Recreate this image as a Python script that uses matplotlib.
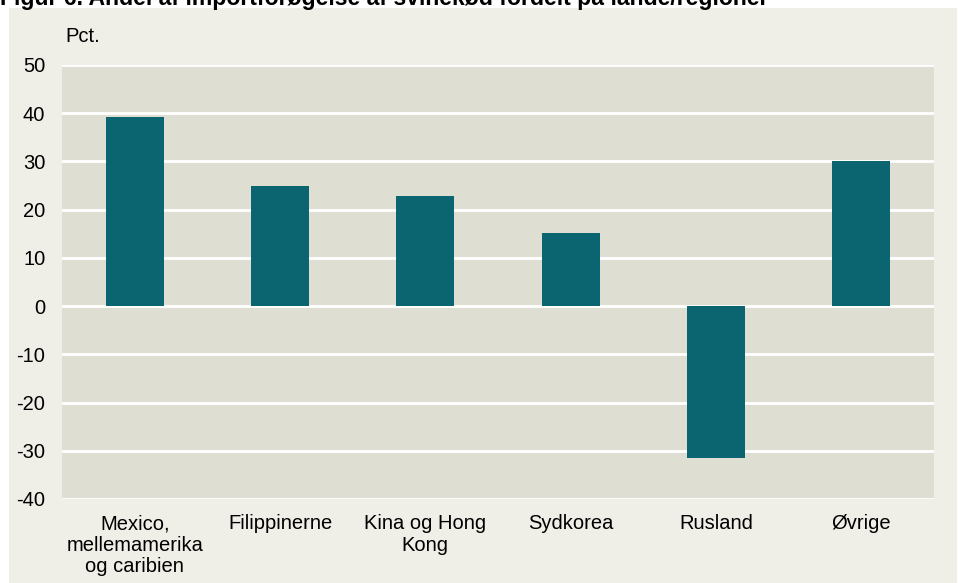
import matplotlib
matplotlib.use("Agg")
import matplotlib.pyplot as plt
from matplotlib.patches import Rectangle

categories = ["Mexico,\nmellemamerika\nog caribien", "Filippinerne", "Kina og Hong\nKong",
              "Sydkorea", "Rusland", "Øvrige"]
values = [39.3, 24.9, 22.8, 15.2, -31.6, 30.0]
yticks = [50, 40, 30, 20, 10, 0, -10, -20, -30, -40]
title = "Figur 6. Andel af importforøgelse af svinekød fordelt på lande/regioner"
unit = "Pct."

plt.rcParams['font.family'] = ['Liberation Sans', 'DejaVu Sans']
FS = 14.5

W, H = 958, 583
fig = plt.figure(figsize=(W/100, H/100), dpi=100)
fig.patch.set_facecolor('white')
bg = Rectangle((9/W, 0), (957-9)/W, (H-8)/H, transform=fig.transFigure,
               facecolor='#EFEEE7', edgecolor='none', zorder=-10)
fig.patches.append(bg)

ax = fig.add_axes([62/W, (H-499)/H, (934-62)/W, (499-65)/H])
ax.set_zorder(5)
ax.set_facecolor('#DFDED3')
ax.bar(range(len(values)), values, width=0.4, color='#0B6570', zorder=3)
ax.set_xlim(-0.5, len(values)-0.5)
ax.set_ylim(-40, 50)
ax.set_yticks(yticks)
ax.set_yticklabels([str(t) for t in yticks])
ax.set_xticks(range(len(categories)))
ax.set_xticklabels(categories, linespacing=1.15)
for s in ax.spines.values():
    s.set_visible(False)
ax.grid(axis='y', color='white', lw=2, zorder=1)
ax.set_axisbelow(True)
ax.tick_params(axis='both', length=0, labelsize=FS, colors='black')
ax.tick_params(axis='y', pad=12)
ax.tick_params(axis='x', pad=11)

fig.text(65/W, 1-36/H, unit, fontsize=FS, va='center', ha='left')
fig.text(0, 1-5/H, title, fontsize=16.6, fontweight='bold', va='baseline', ha='left')

fig.savefig('out.png', dpi=100, facecolor=fig.get_facecolor())
